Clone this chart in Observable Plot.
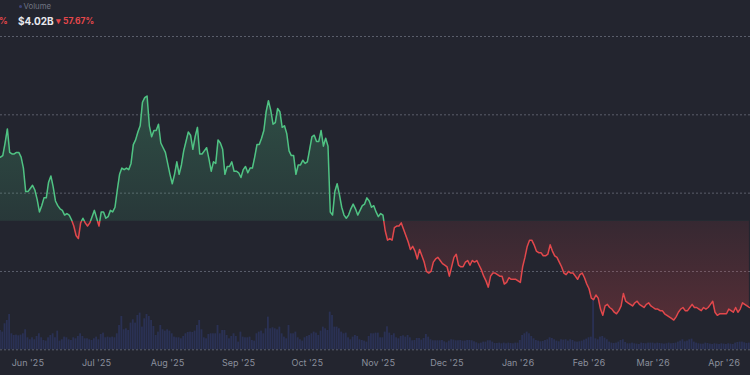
<!DOCTYPE html>
<html>
<head>
<meta charset="utf-8">
<script src="https://cdn.jsdelivr.net/npm/d3@7"></script>
<script src="https://cdn.jsdelivr.net/npm/@observablehq/plot@0.6"></script>
<style>
  html, body { margin: 0; padding: 0; background: #23252f; }
  #wrap { position: relative; width: 750px; height: 375px; overflow: hidden; background: #23252f; font-family: Inter, "Noto Sans", sans-serif; }
  #vol, #price { position: absolute; left: 0; top: 0; width: 750px; height: 375px; }
  #vol svg, #price svg { position: absolute; left: 0; top: 0; }
  .lg { position: absolute; line-height: 1; white-space: nowrap; }
</style>
</head>
<body>
<div id="wrap">
  <div id="vol"></div>
  <div id="price"></div>
  <div class="lg" style="left:18.5px;top:5px;width:3px;height:3px;border-radius:50%;background:#3d4479;"></div>
  <div class="lg" id="volLabel" style="left:23.5px;top:2.8px;font-size:7.8px;color:#6f7482;"></div>
  <div class="lg" id="volValue" style="left:18px;top:16px;font-size:10px;font-weight:700;color:#e8e9ee;"></div>
  <div class="lg" id="volChange" style="left:56px;top:16.5px;font-size:8.5px;font-weight:700;color:#e5474b;"></div>
  <div class="lg" id="cutChange" style="left:-1px;top:16.5px;font-size:8.5px;font-weight:700;color:#e5474b;"></div>
</div>
<script>
// ---- data ----
const startDate = "2025-05-20";
const endDate = "2026-04-12T12:00:00Z";
const basePrice = 0.232;
const priceGrid = [0.15, 0.20, 0.25, 0.30, 0.35];
const monthTicks = ["2025-06-01","2025-07-01","2025-08-01","2025-09-01","2025-10-01","2025-11-01","2025-12-01","2026-01-01","2026-02-01","2026-03-01","2026-04-01"];
const legendLabel = "Volume";
const legendValue = "$4.02B";
const legendChange = "▾ 57.67%";
const cutChangeText = "%";

const prices = [
0.273,0.274,0.282,0.291,0.276,0.275,0.275,0.276,0.276,0.273,
0.266,0.251,0.251,0.253,0.255,0.252,0.246,0.238,0.242,0.247,
0.247,0.257,0.261,0.254,0.245,0.242,0.240,0.239,0.236,0.237,
0.236,0.233,0.229,0.223,0.221,0.231,0.234,0.231,0.229,0.231,
0.235,0.239,0.234,0.229,0.238,0.238,0.234,0.235,0.239,0.238,
0.241,0.252,0.262,0.266,0.265,
0.266,0.265,0.269,0.281,0.284,0.289,0.293,0.308,0.311,0.312,
0.293,0.286,0.290,0.290,0.294,0.282,0.279,0.276,0.269,0.262,
0.256,0.262,0.270,0.262,0.268,0.277,0.283,0.289,0.287,0.278,
0.286,0.292,0.275,0.275,0.277,0.279,0.272,0.264,0.270,0.269,
0.284,0.282,0.278,0.262,0.267,0.267,0.270,0.264,0.264,0.263,
0.260,0.265,0.267,0.263,0.266,
0.266,0.273,0.281,0.281,0.285,0.290,0.302,0.309,0.303,0.294,
0.295,0.304,0.302,0.292,0.293,0.288,0.277,0.274,0.274,0.262,
0.268,0.268,0.271,0.269,0.270,0.278,0.286,0.287,0.283,0.283,
0.290,0.280,0.285,0.280,0.238,0.236,0.251,0.256,0.249,0.241,
0.236,0.234,0.236,0.240,0.243,0.240,0.236,0.239,0.242,0.243,
0.247,0.245,0.241,0.242,0.238,
0.235,0.237,0.236,0.226,0.220,0.221,0.220,0.228,0.229,0.229,
0.231,0.227,0.223,0.219,0.214,0.216,0.213,0.208,0.214,0.210,
0.206,0.200,0.199,0.200,0.206,0.208,0.209,0.207,0.205,0.204,
0.203,0.197,0.203,0.209,0.211,0.204,0.203,0.203,0.206,0.207,
0.204,0.207,0.206,0.207,0.204,0.201,0.197,0.194,0.190,0.197,
0.199,0.199,0.198,0.197,
0.197,0.192,0.193,0.196,0.195,0.195,0.195,0.194,0.193,0.203,
0.209,0.216,0.220,0.220,0.217,0.213,0.212,0.212,0.210,0.210,
0.211,0.217,0.213,0.210,0.209,0.206,0.203,0.199,0.198,0.200,
0.199,0.199,0.197,0.195,0.198,0.199,0.196,0.192,0.189,0.183,
0.182,0.185,0.183,0.176,0.172,0.178,0.179,0.177,0.176,0.174,
0.173,0.175,0.178,0.186,0.181,
0.180,0.179,0.178,0.180,0.181,0.179,0.178,0.177,0.179,0.180,
0.178,0.177,0.176,0.176,0.175,0.175,0.173,0.172,0.171,0.170,
0.169,0.171,0.174,0.176,0.177,0.175,0.175,0.177,0.179,0.177,
0.177,0.176,0.175,0.177,0.176,0.177,0.179,0.181,0.174,0.172,
0.173,0.173,0.173,0.173,0.176,0.175,0.174,0.177,0.174,0.176,
0.180,0.179,0.178,0.177
];

// daily volume, billions of USD
const volumes = [
11.6,10.6,15.6,17.6,21.2,9.6,8.6,8.8,8.4,8.8,
9.6,12,7.2,6,7.2,6,8,9.6,7.2,5.6,
5.2,7.2,8.6,9.6,7.2,11.2,5.2,6,7.6,7.2,
6,5.6,7.2,6.6,8,9.6,8,6.6,6.6,6,
5.6,6.6,7.6,6,9.2,10,7.2,7.6,7.2,7.6,
7.2,9.6,14.6,20,12,
12.6,11.6,16,18,16,20.6,22,13.6,18.6,21.2,
20,17.6,14,8.6,10.6,14.6,12,11.2,12,11.2,
9.6,7.6,7.2,7.2,6.6,8,9.6,10.4,10.6,10.4,
11.2,14.6,17.6,12,7.2,6.6,9.2,9.6,9.6,9.6,
14.6,9.6,11.6,11.6,8.6,6.6,8,9.6,8,4.6,
10.6,7.6,7.2,7.2,7.6,
5.6,5.2,9.6,10.6,11.2,9.6,12.6,19.6,12.6,13.2,
12.6,12,13.6,9.6,7.6,6.6,14.6,9.6,9.6,10.6,
7.2,6,5.2,7.2,8,8.6,9.6,10.6,10,8.6,
11.2,13.6,12.6,11.6,22.6,20.6,13.6,13.6,12.6,10.6,
9.6,10,7.2,6,7.6,8.6,8,6,5.6,5.2,
4.6,8,9.6,9.6,
10,10,7.2,7.2,10.6,13.8,10,8.6,9.6,7.2,
6.6,8,8.4,7.6,8.6,7.2,5.4,5.6,6.8,6.8,
5.8,6.8,9.2,7.6,6,5.4,5.4,5.4,5.4,5.6,
4.8,4.2,5.2,6,5.8,5.4,5.4,5.6,5.2,5.2,
5.6,5.6,5.4,4.8,4.2,3.6,4,4.6,4.6,5.4,
5.4,4.6,3.8,3.8,4,
3.6,4,3.6,4,3.8,3.6,4,4,5.6,8.6,
9.6,10.6,9.6,8,6.6,5.6,5.2,4.8,5,5.6,
6,7.2,6.8,6,5.2,4.8,6,5.8,6,5.2,
6,5.6,4.8,4.6,4.8,5.2,5.8,6.4,7.2,7.6,
30.6,6.6,6,7.6,8,7,6,4.6,4,3.8,
4,4.6,5.6,6,4.4,
3.6,3.6,4,3.6,3.4,3.2,4,3.8,3.6,4,
4,4,3.6,4,3.8,3.6,3.4,3.6,4,3.6,
3.8,4,4.6,5.2,6,4.8,5.2,6,6.4,4.6,
4,3.6,3.4,3.4,4,3.8,3.4,3.2,3.6,3.4,
3.2,3.6,3.4,3.2,3.6,3.4,3.2,4,4.4,4.6,
4.6,4.2,3.8,4.02
];

// ---- build ----
const GREEN = "#4fc383", RED = "#e2474b";
const start = new Date(startDate + "T00:00:00Z");
const rows = prices.map((p, i) => {
  const date = d3.utcDay.offset(start, i);
  return {
    date,
    price: p,
    volume: volumes[i],
    x1: d3.utcHour.offset(date, -9.5),
    x2: d3.utcHour.offset(date, 9.5)
  };
});
const xDomain = [start, new Date(endDate)];
const ticks = monthTicks.map(s => new Date(s + "T00:00:00Z"));

const W = 750, H = 375, MT = 36, MB = 25.7;

const volPlot = Plot.plot({
  width: W, height: H,
  marginLeft: 0, marginRight: 0, marginTop: 299.3, marginBottom: MB,
  style: { background: "transparent" },
  x: { type: "utc", domain: xDomain },
  y: { domain: [0, 30] },
  axis: null,
  marks: [
    Plot.rectY(rows, { x1: "x1", x2: "x2", y: "volume", fill: "#2a3154" })
  ]
});
document.getElementById("vol").appendChild(volPlot);

const pricePlot = Plot.plot({
  width: W, height: H,
  marginLeft: 0, marginRight: 0, marginTop: MT, marginBottom: MB,
  style: { background: "transparent", fontFamily: "Inter, 'Noto Sans', sans-serif", fontSize: "9px", color: "#8a8f9c" },
  x: { type: "utc", domain: xDomain },
  y: { domain: [0.15, 0.35], axis: null },
  marks: [
    Plot.ruleY(priceGrid, { stroke: "#5a5e6b", strokeWidth: 1, strokeDasharray: "2,2" }),
    Plot.areaY(rows, { x: "date", y1: basePrice, y2: "price", fill: "url(#areaGrad)" }),
    Plot.lineY(rows, { x: "date", y: "price", stroke: "url(#lineGrad)", strokeWidth: 1.5 }),
    Plot.axisX({ ticks, tickSize: 0, tickPadding: 9.5, tickFormat: d3.utcFormat("%b '%y"), fill: "#8a8f9c", anchor: "bottom" })
  ]
});
document.getElementById("price").appendChild(pricePlot);

// gradients positioned with the plot's own y scale
const ys = pricePlot.scale("y");
const yBase = ys.apply(basePrice);
const yTop = ys.apply(d3.max(prices));
const yBot = ys.apply(d3.min(prices));
const svg = d3.select(pricePlot);
const defs = svg.insert("defs", ":first-child");
const lg = defs.append("linearGradient").attr("id", "lineGrad")
  .attr("gradientUnits", "userSpaceOnUse").attr("x1", 0).attr("x2", 0).attr("y1", 0).attr("y2", H);
lg.append("stop").attr("offset", yBase / H).attr("stop-color", GREEN);
lg.append("stop").attr("offset", yBase / H).attr("stop-color", RED);
const ag = defs.append("linearGradient").attr("id", "areaGrad")
  .attr("gradientUnits", "userSpaceOnUse").attr("x1", 0).attr("x2", 0).attr("y1", yTop).attr("y2", yBot);
const bo = (yBase - yTop) / (yBot - yTop);
ag.append("stop").attr("offset", 0).attr("stop-color", GREEN).attr("stop-opacity", 0.26);
ag.append("stop").attr("offset", bo).attr("stop-color", GREEN).attr("stop-opacity", 0.12);
ag.append("stop").attr("offset", bo).attr("stop-color", RED).attr("stop-opacity", 0.1);
ag.append("stop").attr("offset", 1).attr("stop-color", RED).attr("stop-opacity", 0.26);

document.getElementById("volLabel").textContent = legendLabel;
document.getElementById("volValue").textContent = legendValue;
document.getElementById("volChange").textContent = legendChange;
document.getElementById("cutChange").textContent = cutChangeText;
</script>
</body>
</html>
